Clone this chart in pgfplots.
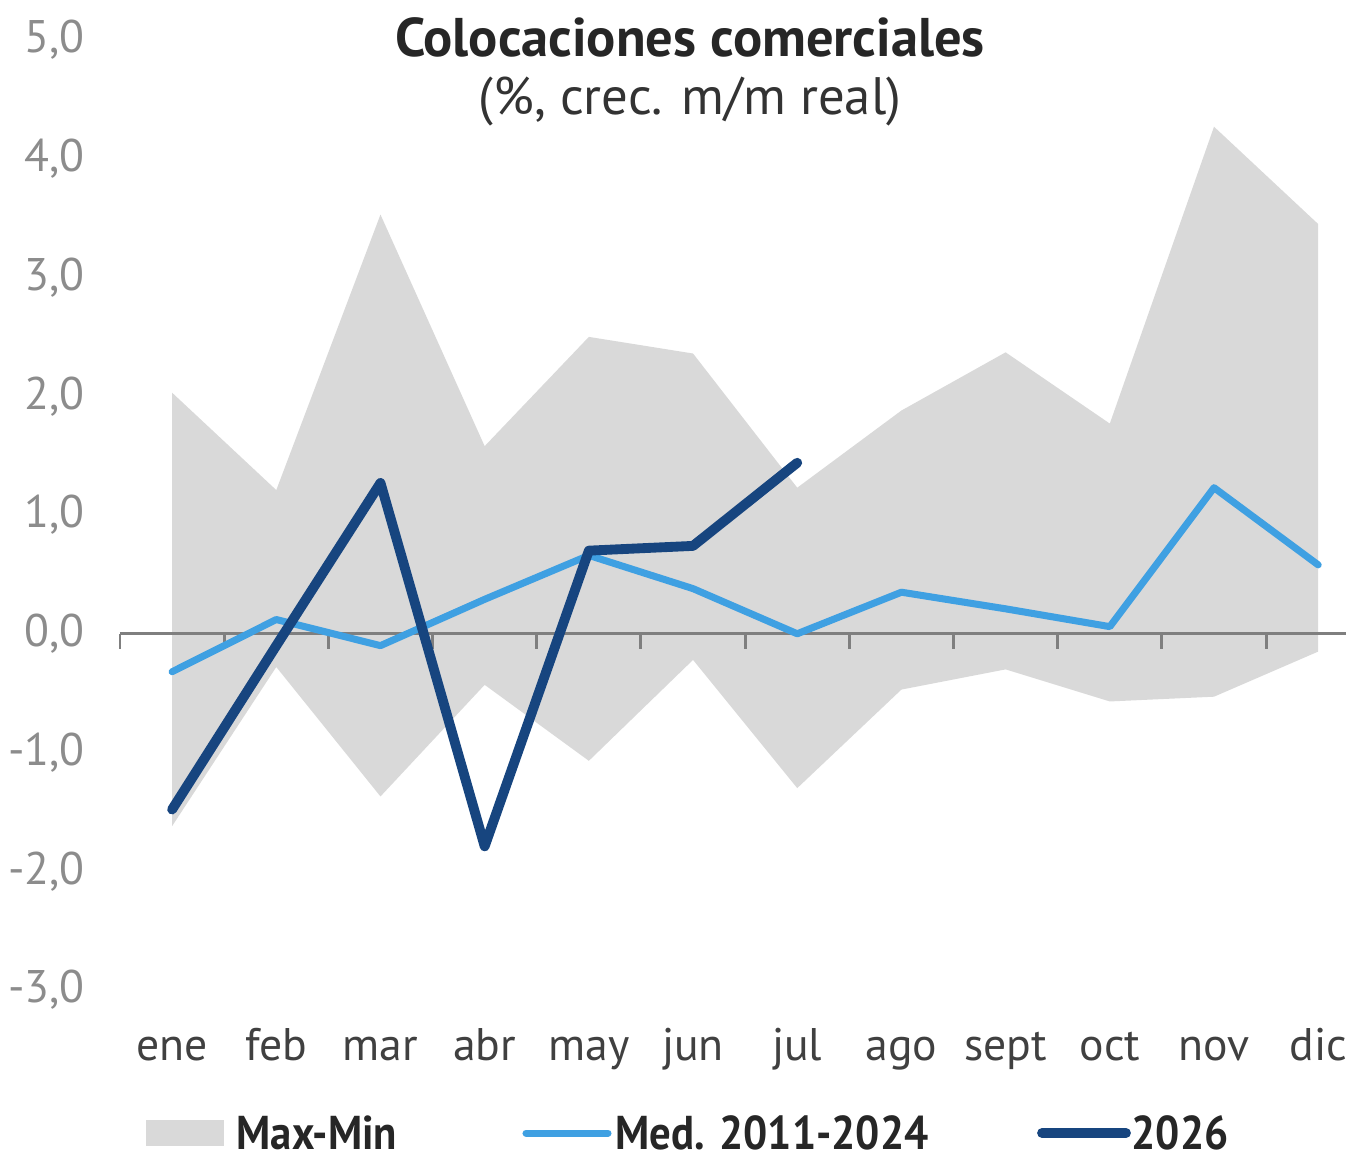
\documentclass[border=0pt]{standalone}
\usepackage{pgfplots}
\pgfplotsset{compat=1.18}
\usepackage{fontspec}
\setmainfont{PT Sans}
\definecolor{bandgray}{HTML}{D9D9D9}
\definecolor{medblue}{HTML}{3FA0E2}
\definecolor{darkblue}{HTML}{17457F}
\definecolor{tickgray}{HTML}{8C8C8C}
\definecolor{labgray}{HTML}{404040}
\definecolor{zerogray}{HTML}{7F7F7F}
\begin{document}
\begin{tikzpicture}
\path[use as bounding box] (-1.2,-1.78) rectangle (12.26,9.9);
\begin{axis}[
  at={(0,0)}, anchor=south west,
  scale only axis,
  width=12.26cm, height=9.5cm,
  xmin=-0.5, xmax=11.267, ymin=-3, ymax=5,
  clip=false,
  axis line style={draw=none},
  tick style={draw=none},
  xtick={0,...,11},
  xticklabels={ene,feb,mar,abr,may,jun,jul,ago,sept,oct,nov,dic},
  ytick={-3,-2,...,5},
  /pgf/number format/assume math mode=true,
  yticklabel={\pgfmathprintnumber[fixed,fixed zerofill,precision=1,use comma]{\tick}},
  yticklabel style={font=\fontsize{13}{15}\selectfont, text=tickgray, xshift=-0.23cm},
  xticklabel style={font=\fontsize{13}{15}\selectfont, text=labgray, anchor=base, yshift=-0.70cm},
]
\addplot[fill=bandgray, draw=none] coordinates {
 (0,2.03) (1,1.21) (2,3.53) (3,1.58) (4,2.50) (5,2.36) (6,1.23) (7,1.88) (8,2.37) (9,1.77) (10,4.27) (11,3.45)
 (11,-0.15) (10,-0.53) (9,-0.57) (8,-0.30) (7,-0.47) (6,-1.30) (5,-0.22) (4,-1.07) (3,-0.43) (2,-1.37) (1,-0.28) (0,-1.62)
} -- cycle;
\addplot[zerogray, line width=0.85pt] coordinates {(-0.5,0) (11.267,0)};
\addplot[zerogray, line width=0.85pt, ycomb] coordinates {
 (-0.5,-0.13) (0.5,-0.13) (1.5,-0.13) (2.5,-0.13) (3.5,-0.13) (4.5,-0.13) (5.5,-0.13) (6.5,-0.13) (7.5,-0.13) (8.5,-0.13) (9.5,-0.13) (10.5,-0.13)
};
\addplot[medblue, line width=2.0pt, line join=round, line cap=round] coordinates {
 (0,-0.32) (1,0.12) (2,-0.10) (3,0.29) (4,0.66) (5,0.38) (6,0.00) (7,0.35) (8,0.21) (9,0.06) (10,1.23) (11,0.58)
};
\addplot[darkblue, line width=2.8pt, line join=round, line cap=round] coordinates {
 (0,-1.48) (1,-0.10) (2,1.27) (3,-1.79) (4,0.70) (5,0.74) (6,1.44)
};
\end{axis}
\node[font=\bfseries\fontsize{15.5}{18}\selectfont, text=black!85] at (5.70,9.53) {Colocaciones comerciales};
\node[font=\fontsize{15}{18}\selectfont, text=black!80] at (5.70,8.88) {(\%, crec. m/m real)};
% legend
\fill[bandgray] (0.26,-1.30) rectangle (1.04,-1.56);
\node[anchor=west, font=\bfseries\fontsize{13.5}{16}\selectfont, text=black!85, inner sep=0pt] at (1.16,-1.43) {\scalebox{0.9}[1]{Max-Min}};
\draw[medblue, line width=2pt, line cap=round] (4.06,-1.43) -- (4.88,-1.43);
\node[anchor=west, font=\bfseries\fontsize{13.5}{16}\selectfont, text=black!85, inner sep=0pt] at (4.95,-1.43) {\scalebox{0.9}[1]{Med. 2011-2024}};
\draw[darkblue, line width=2.8pt, line cap=round] (9.22,-1.43) -- (10.06,-1.43);
\node[anchor=west, font=\bfseries\fontsize{13.5}{16}\selectfont, text=black!85, inner sep=0pt] at (10.11,-1.43) {\scalebox{0.9}[1]{2026}};
\end{tikzpicture}
\end{document}
